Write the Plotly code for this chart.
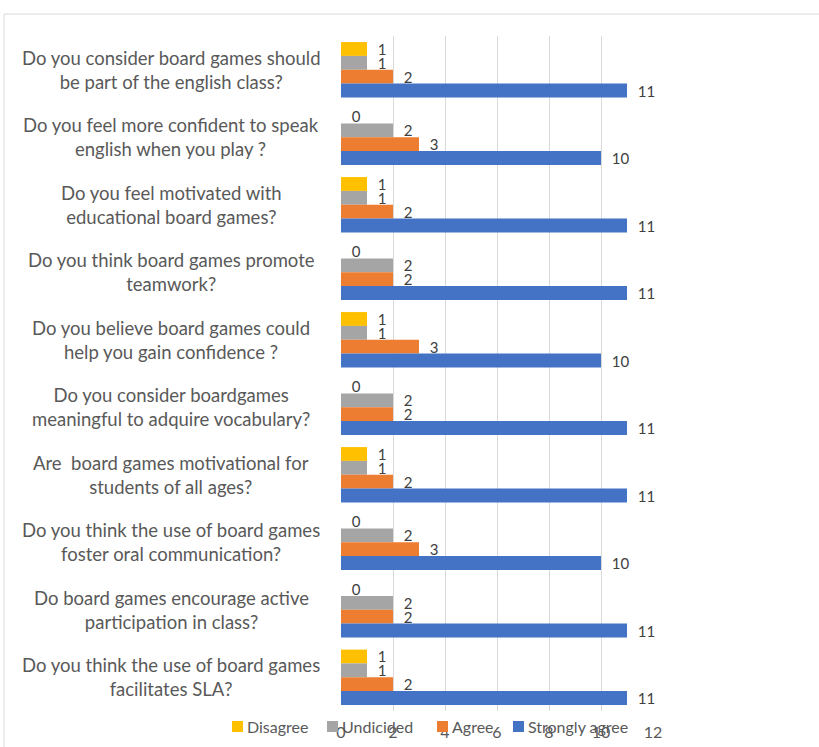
import plotly.graph_objects as go

categories = [
    "Do you consider board games should<br>be part of the english class?",
    "Do you feel more confident to speak<br>english when you play ?",
    "Do you feel motivated with<br>educational board games?",
    "Do you think board games promote<br>teamwork?",
    "Do you believe board games could<br>help you gain confidence ?",
    "Do you consider boardgames<br>meaningful to adquire vocabulary?",
    "Are  board games motivational for<br>students of all ages?",
    "Do you think the use of board games<br>foster oral communication?",
    "Do board games encourage active<br>participation in class?",
    "Do you think the use of board games<br>facilitates SLA?",
]
disagree = [1, 0, 1, 0, 1, 0, 1, 0, 0, 1]
undecided = [1, 2, 1, 2, 1, 2, 1, 2, 2, 1]
agree = [2, 3, 2, 2, 3, 2, 2, 3, 2, 2]
strongly_agree = [11, 10, 11, 11, 10, 11, 11, 10, 11, 11]

series_names = ["Disagree", "Undicided", "Agree", "Strongly agree"]
series_values = [disagree, undecided, agree, strongly_agree]
series_colors = ["#FFC000", "#A5A5A5", "#ED7D31", "#4472C4"]

FONT = "Lato, Calibri, Carlito, sans-serif"

# plot area in pixels
L, R, T, B = 341, 653, 36, 711
def px(x):
    return (x - L) / (R - L)
def py(y):
    return (B - y) / (B - T)

fig = go.Figure()
for name, vals, color in zip(series_names, series_values, series_colors):
    fig.add_trace(go.Bar(
        y=categories, x=vals, name=name, orientation="h",
        marker=dict(color=color, line=dict(width=0)),
        text=[str(v) for v in vals], textposition="outside",
        texttemplate="\u00a0\u00a0%{text}",
        constraintext="none",
        textfont=dict(size=15, color="#404040", family=FONT),
        cliponaxis=False, showlegend=False,
    ))

for c in categories:
    fig.add_annotation(
        x=px(171), y=c, xref="paper", yref="y", text=c, showarrow=False,
        xanchor="center", yanchor="middle", align="center",
        font=dict(size=18.5, color="#595959", family=FONT),
    )

# custom legend
legend_sq_x = [232, 327, 437, 513]
for name, color, sx in zip(series_names, series_colors, legend_sq_x):
    fig.add_shape(type="rect", xref="paper", yref="paper",
                  x0=px(sx), x1=px(sx + 11), y0=py(732), y1=py(721),
                  line=dict(width=0), fillcolor=color)
    fig.add_annotation(x=px(sx + 13), y=py(726.5), xref="paper", yref="paper",
                       text=name, showarrow=False, xanchor="left", yanchor="middle",
                       font=dict(size=16, color="#595959", family=FONT))

fig.add_shape(type="rect", xref="paper", yref="paper",
              x0=px(4), x1=px(900), y0=py(800), y1=py(14),
              line=dict(color="#D9D9D9", width=1), fillcolor="rgba(0,0,0,0)",
              layer="below")

fig.update_layout(
    width=819, height=747,
    margin=dict(l=L, r=819 - R, t=T, b=747 - B, autoexpand=False),
    paper_bgcolor="white", plot_bgcolor="white",
    barmode="group", bargap=0.18, bargroupgap=0,
    font=dict(family=FONT, color="#595959"),
    showlegend=False,
    xaxis=dict(range=[0, 12], dtick=2, showgrid=True, gridcolor="#D9D9D9",
               zeroline=False, showline=False, ticklabelstandoff=10,
               tickfont=dict(size=16, color="#595959", family=FONT), ticks=""),
    yaxis=dict(autorange="reversed", showticklabels=False, showgrid=False,
               zeroline=False, showline=False, ticks=""),
)

fig.write_html("out.html", config={"displayModeBar": False},
               post_script="document.body.style.margin='0px';")
